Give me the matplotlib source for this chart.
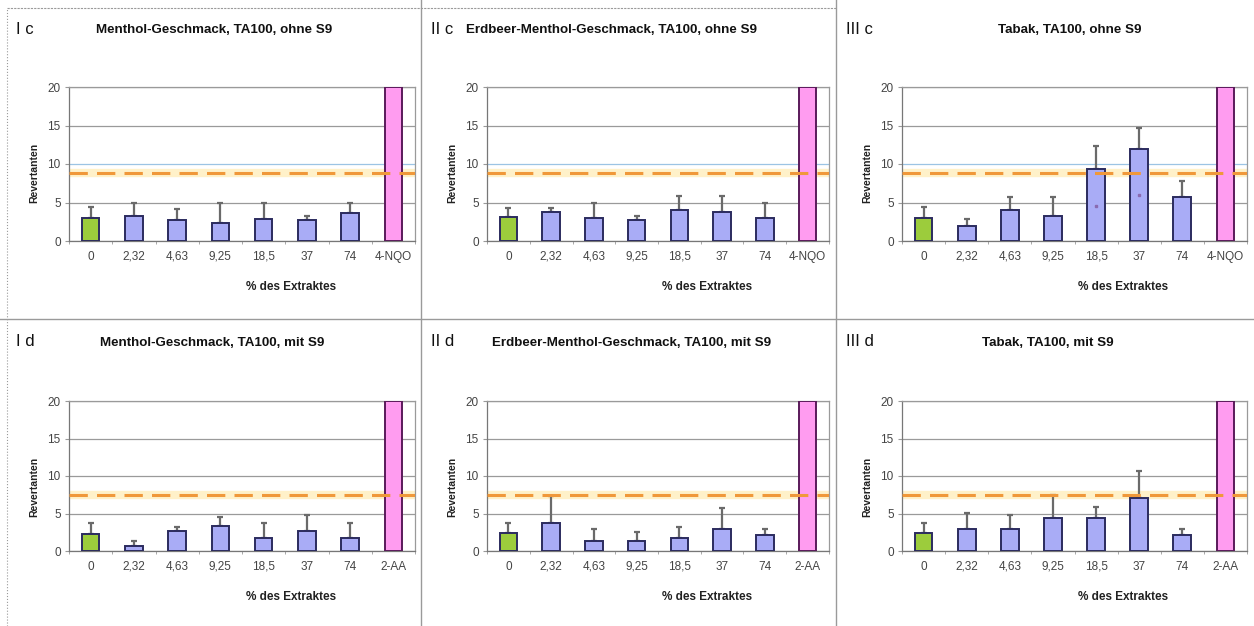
import numpy as np
import matplotlib
matplotlib.use('Agg')
import matplotlib.pyplot as plt
from matplotlib.lines import Line2D

plt.rcParams['font.family'] = ['Liberation Sans', 'DejaVu Sans']

W, H = 1254, 626

# data
doses = ['0', '2,32', '4,63', '9,25', '18,5', '37', '74']
pos_ctrl_c = '4-NQO'
pos_ctrl_d = '2-AA'
pos_value = 20          # positive control runs off the top of the axis

mean_Ic = [3.0, 3.3, 2.7, 2.3, 2.9, 2.7, 3.6]
sd_Ic = [1.4, 1.6, 1.4, 2.6, 2.1, 0.5, 1.3]
mean_IIc = [3.1, 3.8, 3.0, 2.7, 4.0, 3.8, 3.0]
sd_IIc = [1.2, 0.5, 1.9, 0.6, 1.8, 2.0, 1.9]
mean_IIIc = [3.0, 2.0, 4.0, 3.3, 9.4, 12.0, 5.7]
sd_IIIc = [1.4, 0.9, 1.7, 2.4, 3.0, 2.7, 2.1]
median_IIIc = [np.nan, np.nan, np.nan, np.nan, 4.6, 6.0, np.nan]

mean_Id = [2.3, 0.7, 2.7, 3.4, 1.7, 2.7, 1.7]
sd_Id = [1.45, 0.6, 0.5, 1.1, 2.05, 2.1, 2.05]
mean_IId = [2.4, 3.8, 1.4, 1.4, 1.75, 3.0, 2.1]
sd_IId = [1.4, 3.6, 1.5, 1.1, 1.45, 2.7, 0.9]
mean_IIId = [2.4, 3.0, 3.0, 4.4, 4.4, 7.1, 2.1]
sd_IIId = [1.4, 2.1, 1.75, 3.1, 1.5, 3.6, 0.9]

limit_c = 8.8
limit_d = 7.5

panels = [
    ('I c', 'Menthol-Geschmack, TA100, ohne S9', mean_Ic, sd_Ic, None, pos_ctrl_c, limit_c),
    ('II c', 'Erdbeer-Menthol-Geschmack, TA100, ohne S9', mean_IIc, sd_IIc, None, pos_ctrl_c, limit_c),
    ('III c', 'Tabak, TA100, ohne S9', mean_IIIc, sd_IIIc, median_IIIc, pos_ctrl_c, limit_c),
    ('I d', 'Menthol-Geschmack, TA100, mit S9', mean_Id, sd_Id, None, pos_ctrl_d, limit_d),
    ('II d', 'Erdbeer-Menthol-Geschmack, TA100, mit S9', mean_IId, sd_IId, None, pos_ctrl_d, limit_d),
    ('III d', 'Tabak, TA100, mit S9', mean_IIId, sd_IIId, None, pos_ctrl_d, limit_d),
]

# pixel layout (left, right) per column, (top, bottom) per row
cols = [(69, 415), (487, 829), (902, 1247)]
rows = [(87, 241), (401, 551)]
label_x = [16, 431, 846]
title_x = [214, 611, 1070]
title_x_d = [212, 632, 1048]

GREEN = '#9ccc3c'
BLUE = '#a9acf6'
PINK = '#ff9cf0'
EDGE = '#2b2b5e'
GRID = '#9a9a9a'


def fx(px):
    return px / W


def fy(py):
    return 1 - py / H


fig = plt.figure(figsize=(W / 100, H / 100), dpi=100)

for i, (lab, title, mean, sd, med, pos, limit) in enumerate(panels):
    r, c = divmod(i, 3)
    (l, rr), (t, b) = cols[c], rows[r]
    ax = fig.add_axes([fx(l), fy(b), fx(rr - l), (b - t) / H])

    x = np.arange(8)
    vals = list(mean) + [pos_value]
    colors = [GREEN] + [BLUE] * 6 + [PINK]
    edges = [EDGE] * 7 + ['#5a1a5a']
    ax.bar(x, vals, width=0.41, color=colors, edgecolor=edges, linewidth=1.4, zorder=3)
    ax.errorbar(x[:7], mean, yerr=[np.zeros(7), sd], fmt='none', ecolor='#6a6a6a',
                elinewidth=1.6, capsize=2.5, capthick=1.6, zorder=2.8)
    if med is not None:
        ax.plot(x[:7], med, ls='none', marker='s', ms=2, color='#8a6ab0', zorder=4)

    ax.axhline(limit, color='#fff0c4', lw=6, zorder=2, alpha=0.9)
    ax.axhline(limit, color='#f0983a', lw=2.2, dashes=(6, 3), zorder=5)

    ax.set_xlim(-0.5, 7.5)
    ax.set_ylim(0, 20)
    ax.set_yticks([0, 5, 10, 15, 20])
    ax.grid(axis='y', color=GRID, lw=0.9, zorder=0)
    if r == 0:
        ax.get_ygridlines()[2].set_color('#9cc4e4')
    ax.set_xticks(x)
    ax.set_xticklabels(doses + [pos], fontsize=8.5, color='#444444')
    ax.set_xticks(np.arange(-0.5, 8, 1), minor=True)
    ax.tick_params(axis='x', which='major', length=0, pad=7)
    ax.tick_params(axis='x', which='minor', length=2.5, color=GRID)
    ax.tick_params(axis='y', length=3, color=GRID, labelsize=8.5, labelcolor='#444444', pad=3)
    for s in ax.spines.values():
        s.set_color(GRID)
        s.set_linewidth(0.9)
    ax.spines['left'].set_color('#777777')
    ax.spines['bottom'].set_color('#777777')

    fig.text(fx(l - 35), fy(t + 86), 'Revertanten', rotation=90, fontsize=7.5,
             fontweight='bold', ha='center', va='center', color='#222222')
    fig.text(fx((l + rr) / 2 + 49), fy(b + 46), '% des Extraktes', fontsize=8.5,
             fontweight='bold', ha='center', va='center', color='#222222')

    ty = 30 if r == 0 else 343
    tx = title_x[c] if r == 0 else title_x_d[c]
    fig.text(fx(tx), fy(ty), title, fontsize=9.6, fontweight='bold', ha='center',
             va='center', color='#111111')
    fig.text(fx(label_x[c]), fy(ty - 1), lab, fontsize=12, ha='left', va='center',
             color='#111111')

# panel frame lines
fig.add_artist(Line2D([fx(421), fx(421)], [0, 1], color='#9a9a9a', lw=1))
fig.add_artist(Line2D([fx(836), fx(836)], [0, 1], color='#9a9a9a', lw=1))
fig.add_artist(Line2D([0, 1], [fy(319), fy(319)], color='#9a9a9a', lw=1))
fig.add_artist(Line2D([fx(7), fx(7)], [0, fy(8)], color='#9a9a9a', lw=0.8, ls=':'))
fig.add_artist(Line2D([fx(7), fx(836)], [fy(8), fy(8)], color='#9a9a9a', lw=0.8, ls=(0, (2, 1))))

fig.savefig('out.png', dpi=100)
